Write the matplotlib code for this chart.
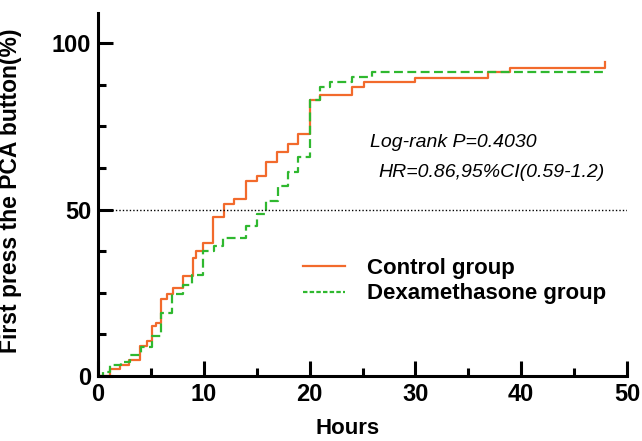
import matplotlib

matplotlib.use('Agg')
import matplotlib.pyplot as plt
from matplotlib.lines import Line2D
from matplotlib.ticker import MultipleLocator

plt.rcParams['font.family'] = ['Liberation Sans', 'DejaVu Sans']

# step times (hours) and cumulative % for each group
control_t = [0, 1.1, 2.1, 2.9, 4.0, 4.6, 5.1, 5.5, 6.0, 6.5, 7.1, 8.0, 9.0, 9.3, 9.9,
             10.9, 11.9, 12.9, 14.0, 15.0, 15.9, 16.9, 18.0, 18.9, 20.0, 21.0, 24.0,
             25.1, 30.0, 36.9, 38.9, 47.9]
control_y = [0, 2.0, 3.3, 4.8, 8.9, 10.4, 14.9, 16.0, 23.0, 24.5, 26.6, 30.0, 35.6, 37.6, 40.0,
             47.7, 51.8, 53.2, 58.7, 60.2, 64.2, 67.3, 69.8, 72.8, 82.9, 84.4, 86.9,
             88.4, 89.7, 91.4, 92.7, 94.3]

dexa_t = [0, 0.5, 1.1, 2.2, 3.0, 4.1, 5.1, 6.0, 7.0, 8.0, 8.9, 9.9, 11.0, 11.8,
          14.0, 15.0, 15.9, 17.0, 18.0, 18.9, 20.0, 21.0, 21.9, 24.0, 25.9, 47.9]
dexa_y = [0, 1.3, 3.3, 4.3, 6.3, 8.6, 11.9, 19.0, 24.5, 27.5, 30.5, 37.6, 39.0, 41.5,
          45.1, 48.6, 52.6, 57.2, 61.2, 65.7, 82.9, 86.9, 88.4, 89.9, 91.4, 91.4]

orange = '#F26A2C'
green = '#2FB82F'

fig = plt.figure(figsize=(6.42, 4.41), dpi=100)
ax = fig.add_axes([98 / 642, 1 - 376 / 441, 529 / 642, (376 - 12.7) / 441])

ax.step(control_t, control_y, where='post', color=orange, lw=1.6)
ax.step(dexa_t, dexa_y, where='post', color=green, lw=1.6, ls=(0, (4, 2)))
ax.axhline(50, color='black', lw=1, ls=(0, (1, 1.5)))

ax.set_xlim(0, 50)
ax.set_ylim(0, 109.2)
ax.xaxis.set_major_locator(MultipleLocator(10))
ax.xaxis.set_minor_locator(MultipleLocator(5))
ax.set_yticks([0, 50, 100])
ax.yaxis.set_minor_locator(MultipleLocator(12.5))

for s in ['top', 'right']:
    ax.spines[s].set_visible(False)
for s in ['left', 'bottom']:
    ax.spines[s].set_linewidth(2.2)
ax.tick_params(which='major', direction='in', length=11, width=2.2, labelsize=17, pad=5)
ax.tick_params(which='minor', direction='in', length=6, width=2.2)
for lab in ax.get_xticklabels() + ax.get_yticklabels():
    lab.set_fontweight('bold')

ax.set_xlabel('Hours', fontsize=16, fontweight='bold')
ax.xaxis.set_label_coords((347.5 - 98) / 529, -42 / 363.3)
ax.set_ylabel('First press the PCA button(%)', fontsize=16.5, fontweight='bold')
ax.yaxis.set_label_coords(-76 / 529, 0.51)

ax.text(25.7, 70.3, 'Log-rank P=0.4030', fontsize=14, style='italic', va='center')
ax.text(26.5, 61.3, 'HR=0.86,95%CI(0.59-1.2)', fontsize=14, style='italic', va='center')

handles = [Line2D([], [], color=orange, lw=1.6),
           Line2D([], [], color=green, lw=1.6, ls=(0, (2, 1)))]
ax.legend(handles, ['Control group', 'Dexamethasone group'], frameon=False,
          loc='upper left', bbox_to_anchor=(303 / 642, 1 - 258 / 441),
          bbox_transform=fig.transFigure, prop={'weight': 'bold', 'size': 16},
          handlelength=1.9, handletextpad=1.0, labelspacing=0.2, borderpad=0,
          borderaxespad=0)

fig.savefig('out.png', dpi=100)
plt.close(fig)
